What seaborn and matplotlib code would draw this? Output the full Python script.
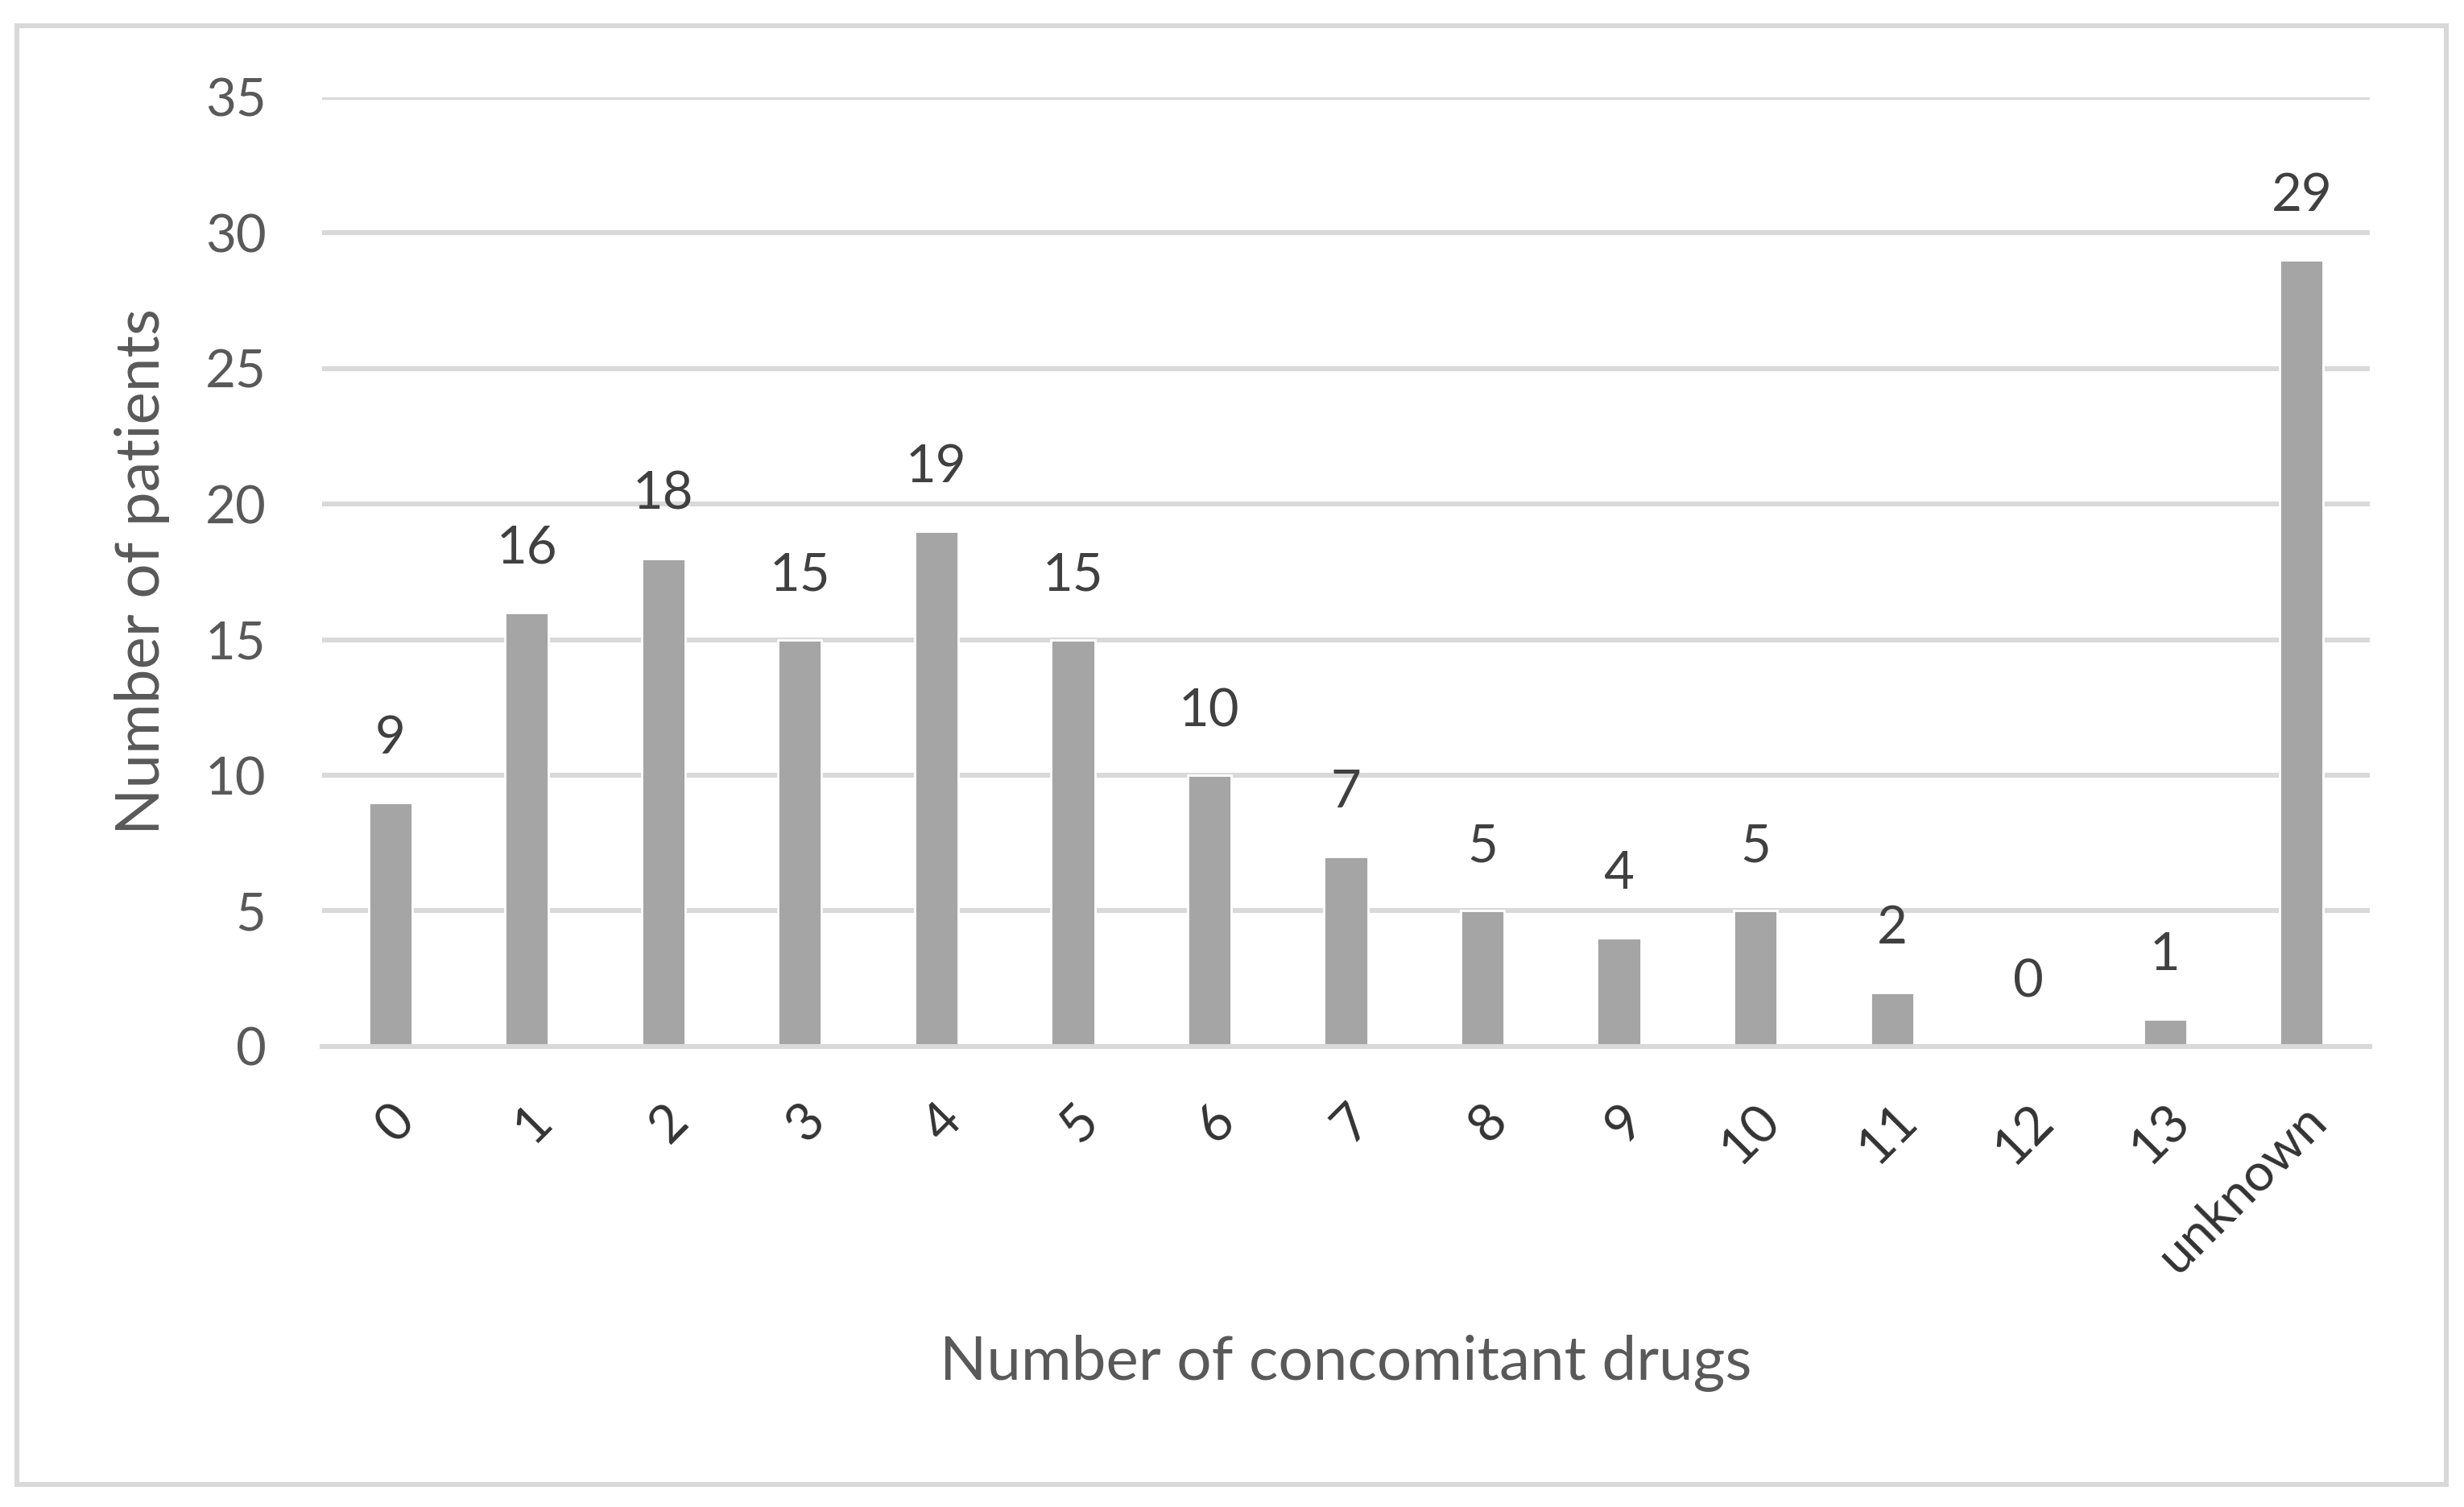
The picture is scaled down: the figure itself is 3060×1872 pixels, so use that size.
import matplotlib
matplotlib.use("Agg")
import matplotlib.pyplot as plt
import seaborn as sns
import pandas as pd
from matplotlib.patches import Rectangle

categories = ['0', '1', '2', '3', '4', '5', '6', '7', '8', '9', '10', '11', '12', '13', 'unknown']
patients = [9, 16, 18, 15, 19, 15, 10, 7, 5, 4, 5, 2, 0, 1, 29]
y_ticks = [0, 5, 10, 15, 20, 25, 30, 35]

sns.set_style("white")
plt.rcParams['font.family'] = ['Lato', 'DejaVu Sans']

df = pd.DataFrame({'drugs': categories, 'patients': patients})

fig = plt.figure(figsize=(15.3, 9.36), dpi=200)
ax = fig.add_axes([0.1307, 0.3056, 0.8311, 0.6298])

sns.barplot(data=df, x='drugs', y='patients', color='#A5A5A5',
            saturation=1, width=0.32, ax=ax, zorder=3)

ax.set_xlim(-0.5, 14.5)
ax.set_ylim(0, 35)
ax.set_yticks(y_ticks)
ax.yaxis.grid(True, color='#D9D9D9', linewidth=2.2, zorder=0)
ax.set_axisbelow(True)
for s in ['top', 'right', 'left']:
    ax.spines[s].set_visible(False)
ax.spines['bottom'].set_color('#D9D9D9')
ax.spines['bottom'].set_linewidth(2.2)
ax.spines['bottom'].set_zorder(4)

ax.tick_params(axis='y', length=0, pad=25, labelsize=23.5, labelcolor='#595959')
ax.tick_params(axis='x', length=0, pad=22, labelsize=23.5, labelcolor='#333333')
plt.setp(ax.get_xticklabels(), rotation=45, ha='right', rotation_mode='anchor')

# value labels on top of the bars
for c in ax.containers:
    ax.bar_label(c, labels=[str(v) for v in patients], padding=18,
                 fontsize=23.5, color='#404040')

ax.set_xlabel('Number of concomitant drugs', fontsize=27.5, color='#595959')
ax.set_ylabel('Number of patients', fontsize=27.5, color='#595959')
ax.xaxis.set_label_coords(0.5, -0.334)
ax.xaxis.label.set_va('center')
ax.yaxis.set_label_coords(-0.088, 0.5)
ax.yaxis.label.set_va('center')

# outer chart border
fig.patches.append(Rectangle((0.0068, 0.015), 0.986, 0.968, transform=fig.transFigure,
                             fill=False, edgecolor='#D9D9D9', linewidth=2.2))

fig.savefig('out.png', dpi=200, facecolor='white')
